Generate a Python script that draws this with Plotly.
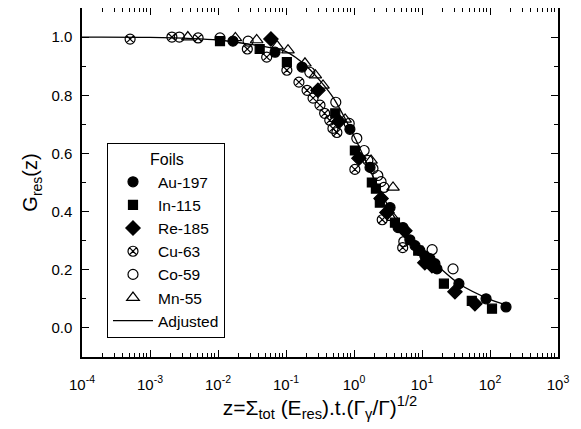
import plotly.graph_objects as go

# values (z on a log axis, G_res(z) linear)
au_z = [0.0166, 0.069, 0.172, 0.87, 1.72, 3.39, 4.45, 5.25, 6.63, 7.9, 9.3, 11.0, 13.1, 15.5, 16.6, 34.9, 87.5, 172]
au_g = [0.986, 0.948, 0.897, 0.683, 0.552, 0.414, 0.345, 0.345, 0.303, 0.283, 0.266, 0.248, 0.238, 0.221, 0.203, 0.152, 0.100, 0.072]

in_z = [0.0107, 0.041, 0.103, 0.53, 1.03, 1.83, 2.1, 2.4, 4.0, 8.8, 12.3, 21, 54, 107]
in_g = [0.986, 0.959, 0.914, 0.738, 0.610, 0.500, 0.479, 0.431, 0.362, 0.266, 0.224, 0.152, 0.093, 0.066]

re_z = [0.060, 0.295, 0.60, 1.18, 2.5, 3.05, 5.6, 11, 14, 30.5, 60]
re_g = [0.993, 0.817, 0.710, 0.583, 0.445, 0.397, 0.334, 0.224, 0.214, 0.124, 0.083]

cu_z = [5.1e-4, 2.1e-3, 5.1e-3, 0.027, 0.052, 0.103, 0.155, 0.204, 0.25, 0.316, 0.37, 0.44, 0.49, 0.56, 1.03, 2.6, 5.2]
cu_g = [0.993, 1.000, 0.997, 0.959, 0.931, 0.886, 0.845, 0.817, 0.790, 0.766, 0.738, 0.714, 0.686, 0.672, 0.545, 0.372, 0.276]

co_z = [2.7e-3, 0.0107, 0.0277, 0.224, 0.54, 0.85, 1.1, 1.41, 1.6, 1.9, 2.24, 2.5, 2.76, 5.4, 14.1, 28.6]
co_g = [1.000, 0.997, 0.986, 0.879, 0.776, 0.703, 0.652, 0.610, 0.576, 0.548, 0.524, 0.503, 0.483, 0.297, 0.269, 0.203]

mn_z = [3.6e-3, 0.018, 0.037, 0.074, 0.107, 0.19, 0.27, 0.35, 0.74, 1.78, 3.75, 3.75]
mn_g = [1.000, 0.997, 0.990, 0.969, 0.955, 0.910, 0.869, 0.834, 0.717, 0.576, 0.483, 0.379]

fit_z = [1e-4, 1e-3, 1e-2, 0.03, 0.1, 0.2, 0.33, 0.5, 1, 2, 4.2, 10, 13, 35, 100, 175]
fit_g = [1.000, 0.999, 0.990, 0.975, 0.950, 0.900, 0.845, 0.790, 0.660, 0.510, 0.370, 0.262, 0.238, 0.152, 0.098, 0.078]

x_ticks = [1e-4, 1e-3, 1e-2, 1e-1, 1, 10, 100, 1000]
x_labels = ['10<sup>-4</sup>', '10<sup>-3</sup>', '10<sup>-2</sup>', '10<sup>-1</sup>',
            '10<sup>0</sup>', '10<sup>1</sup>', '10<sup>2</sup>', '10<sup>3</sup>']

minor_x = [m * d for d in x_ticks[:-1] for m in range(2, 10)]

fig = go.Figure()

def pts(name, xs, ys, symbol, size):
    fig.add_trace(go.Scatter(
        x=xs, y=ys, mode='markers', name=name,
        marker=dict(symbol=symbol, size=size, color='black',
                    line=dict(color='black', width=1.2))
    ))

pts('Au-197', au_z, au_g, 'circle', 10)
pts('In-115', in_z, in_g, 'square', 9)
pts('Re-185', re_z, re_g, 'diamond', 11)
pts('Cu-63', cu_z, cu_g, 'circle-x-open', 10)
pts('Co-59', co_z, co_g, 'circle-open', 10)
pts('Mn-55', mn_z, mn_g, 'triangle-up-open', 11)

fig.add_trace(go.Scatter(
    x=fit_z, y=fit_g, mode='lines', name='Adjusted',
    line=dict(color='black', width=1.3, shape='spline', smoothing=0.8)
))

axis_font = dict(family='Liberation Sans, Arial, sans-serif', size=15, color='black')

# page body adds 8px on the left/top, so the figure is sized to fit the window
fig.update_layout(
    width=573, height=421,
    margin=dict(l=74, r=23, t=0, b=72, autoexpand=False),
    paper_bgcolor='white', plot_bgcolor='white',
    font=axis_font,
    showlegend=True,
    legend=dict(
        x=0.0525, y=0.612, xanchor='left', yanchor='top',
        bordercolor='black', borderwidth=1, bgcolor='white',
        title=dict(text='         Foils', font=dict(size=16)),
        font=dict(size=15.5), tracegroupgap=0, itemwidth=40,
    ),
    xaxis=dict(
        type='log', range=[-4, 3],
        tickvals=x_ticks, ticktext=x_labels,
        ticks='inside', ticklen=7, tickwidth=1, tickcolor='black',
        ticklabelstandoff=13,
        minor=dict(tickvals=minor_x, ticks='inside', ticklen=4, tickcolor='black', showgrid=False),
        showline=True, linecolor='black', linewidth=1.5, mirror='ticks',
        showgrid=False, zeroline=False,
        title=dict(text='z=Σ<sub>tot</sub> (E<sub>res</sub>).t.(Γ<sub>γ</sub>/Γ)<sup>1/2</sup>',
                   font=dict(size=21), standoff=6),
    ),
    yaxis=dict(
        range=[-0.1, 1.1],
        tickvals=[0, 0.2, 0.4, 0.6, 0.8, 1.0], tickformat='.1f',
        ticks='inside', ticklen=7, tickwidth=1, tickcolor='black',
        ticklabelstandoff=5,
        minor=dict(dtick=0.1, ticks='inside', ticklen=4, tickcolor='black', showgrid=False),
        showline=True, linecolor='black', linewidth=1.5, mirror='ticks',
        showgrid=False, zeroline=False,
        title=dict(text='G<sub>res</sub>(z)', font=dict(size=20), standoff=8),
    ),
)

fig.write_html('out.html')
